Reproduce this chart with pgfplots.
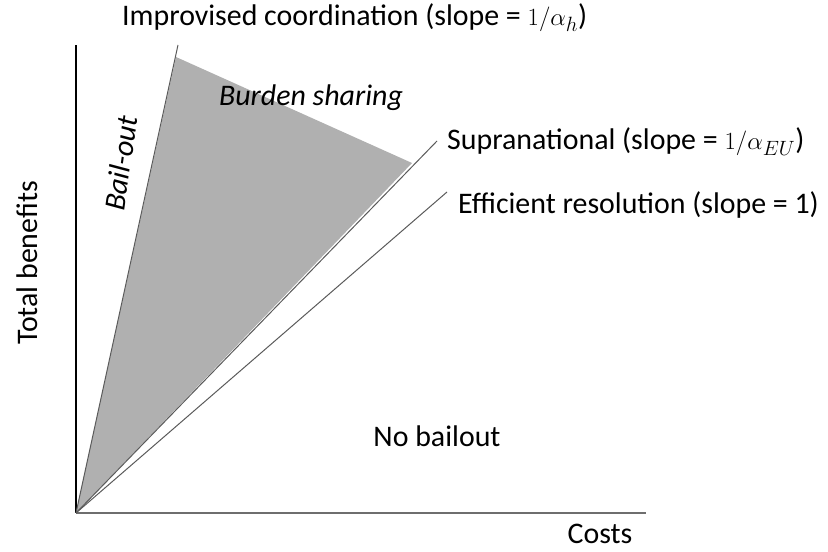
\documentclass[border=0pt]{standalone}
\usepackage{fontspec}
\setmainfont{Carlito}
\usepackage{pgfplots}
\pgfplotsset{compat=1.18}
\definecolor{axisgray}{HTML}{6E6E6E}
\definecolor{linegray}{HTML}{5A5A5A}
\definecolor{shade}{HTML}{B0B0B0}
\newcommand{\lab}{\fontsize{30}{36}\selectfont}

\begin{document}
\begin{tikzpicture}
  \begin{axis}[
    x=1bp, y=1bp,
    xmin=0, xmax=570,
    ymin=0, ymax=468,
    axis lines=left,
    axis line style={-},
    x axis line style={axisgray, line width=2.2bp},
    y axis line style={black, line width=1.3bp},
    xtick=\empty, ytick=\empty,
    clip=false,
  ]
    % invisible box so the page is 828 x 552
    \path (axis cs:-76,-39) rectangle (axis cs:752,513);

    % burden sharing region
    \addplot[fill=shade, draw=none] coordinates {(0,0) (100,456) (336,350) (0,0)} \closedcycle;

    % rays from the origin
    \addplot[linegray, line width=1bp] coordinates {(0,0) (102,468)};
    \addplot[linegray, line width=1bp] coordinates {(0,0) (361,372)};
    \addplot[linegray, line width=1bp] coordinates {(0,0) (371,321)};

    \node[font=\lab, anchor=west, inner sep=0pt] at (axis cs:46,495) {Improvised coordination (slope = $1/\alpha_h$)};
    \node[font=\lab, anchor=west, inner sep=0pt] at (axis cs:371,371) {Supranational (slope = $1/\alpha_{EU}$)};
    \node[font=\lab, anchor=west, inner sep=0pt] at (axis cs:382,308) {Efficient resolution (slope = 1)};
    \node[font=\lab\itshape, inner sep=0pt] at (axis cs:235,415) {Burden sharing};
    \node[font=\lab\itshape, rotate=82, inner sep=0pt] at (axis cs:45,350) {Bail-out};
    \node[font=\lab, inner sep=0pt] at (axis cs:361,77) {No bailout};
    \node[font=\lab, inner sep=0pt] at (axis cs:524,-21) {Costs};
    \node[font=\lab, rotate=90, inner sep=0pt] at (axis cs:-49,250) {Total benefits};
  \end{axis}
\end{tikzpicture}
\end{document}
